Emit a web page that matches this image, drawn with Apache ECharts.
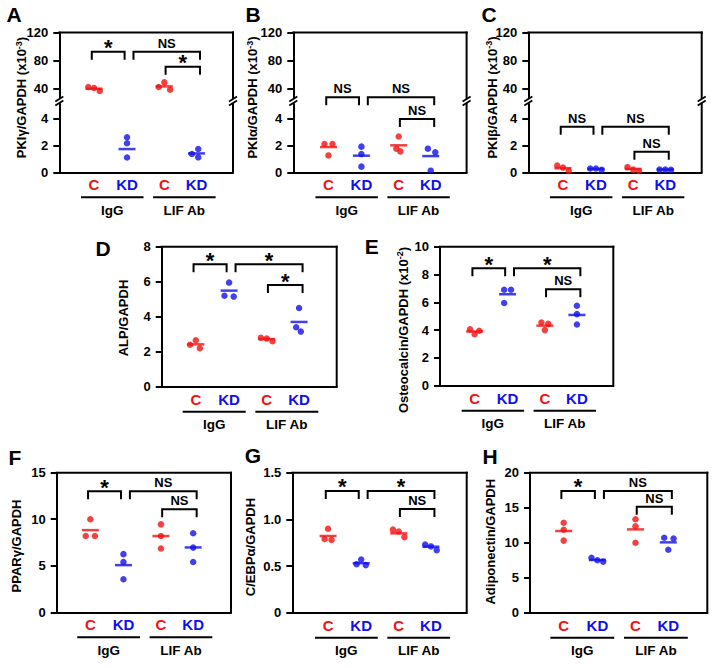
<!DOCTYPE html>
<html><head><meta charset="utf-8">
<script src="https://cdn.jsdelivr.net/npm/echarts@6/dist/echarts.min.js"></script>
<style>html,body{margin:0;padding:0;background:#fff}#c{width:714px;height:668px}</style>
</head><body><div id="c"></div><script>
// ================= DATA =================
const categories = ['C', 'KD', 'C', 'KD'];
const groupNames = ['IgG', 'LIF Ab'];
// dots per group: [IgG C, IgG KD, LIF Ab C, LIF Ab KD]
const pkiGammaDots  = [[42.5, 41, 36.7], [2.6, 2.15, 1.1], [49, 42.4, 38.6], [1.73, 1.36, 1.11]];
const pkiGammaMeans = [40, 1.72, 43.3, 1.4];
const pkiGammaSig   = ['*', 'NS', '*'];
const pkiGammaSigY  = [92.7, 92.7, 71.3];
const pkiAlphaDots  = [[2.1, 2.1, 1.25], [1.9, 1.35, 0.42], [2.65, 1.75, 1.55], [1.75, 1.48, 0.12]];
const pkiAlphaMeans = [1.87, 1.23, 2.0, 1.2];
const pkiAlphaSig   = ['NS', 'NS', 'NS'];
const pkiAlphaSigY  = [27.8, 27.8, 3.95];
const pkiBetaDots   = [[0.5, 0.35, 0.1], [0.28, 0.28, 0.18], [0.38, 0.2, 0.1], [0.2, 0.2, 0.18]];
const pkiBetaMeans  = [0.3, 0.25, 0.25, 0.2];
const pkiBetaSig    = ['NS', 'NS', 'NS'];
const pkiBetaSigY   = [3.38, 3.38, 1.53];
const alpDots  = [[2.65, 2.4, 2.2], [5.95, 5.2, 5.15], [2.8, 2.75, 2.6], [4.5, 3.4, 3.15]];
const alpMeans = [2.42, 5.49, 2.72, 3.7];
const alpSig   = ['*', '*', '*'];
const alpSigY  = [7.0, 7.0, 5.81];
const ocnDots  = [[4.05, 3.95, 3.7], [6.9, 6.9, 5.95], [4.55, 4.45, 4.0], [5.75, 5.15, 4.4]];
const ocnMeans = [3.9, 6.58, 4.32, 5.09];
const ocnSig   = ['*', '*', 'NS'];
const ocnSigY  = [8.45, 8.45, 6.93];
const pparDots  = [[10.0, 8.2, 8.2], [6.25, 5.4, 3.55], [9.45, 8.2, 6.85], [8.5, 6.95, 5.4]];
const pparMeans = [8.83, 5.07, 8.19, 6.97];
const pparSig   = ['*', 'NS', 'NS'];
const pparSigY  = [13.0, 13.0, 11.08];
const cebpDots  = [[0.9, 0.79, 0.78], [0.57, 0.52, 0.51], [0.89, 0.87, 0.81], [0.73, 0.71, 0.67]];
const cebpMeans = [0.822, 0.53, 0.85, 0.707];
const cebpSig   = ['*', '*', 'NS'];
const cebpSigY  = [1.304, 1.304, 1.111];
const adipoDots  = [[12.85, 11.85, 10.3], [7.85, 7.5, 7.3], [13.35, 12.35, 10.0], [10.7, 10.6, 9.0]];
const adipoMeans = [11.67, 7.53, 11.9, 10.05];
const adipoSig   = ['*', 'NS', 'NS'];
const adipoSigY  = [17.4, 17.4, 15.14];
const ticksPkiUpper = [40, 80, 120];
const ticksPkiLower = [0, 2, 4];
const ticksAlp   = [0, 2, 4, 6, 8];
const ticksOcn   = [0, 2, 4, 6, 8, 10];
const ticksPpar  = [0, 5, 10, 15];
const ticksCebp  = [0, 0.5, 1.0, 1.5];
const ticksAdipo = [0, 5, 10, 15, 20];

// ================= LAYOUT / STYLE =================
const RED = '#f21010', BLUE = '#1010e8';
const FONT = '"Liberation Sans", Arial, sans-serif';
const catX = [2.0, 3.9, 6.05, 7.9];
const bracketX = [[1.87, 3.76], [4.27, 8.1], [6.12, 8.1]];
const groupX = [[1.25, 4.85], [5.4, 9.0]];
const groupLabelX = [3.05, 7.2];
const X_MIN = 0, X_MAX = 10;
const JU = 0.33;
const cebpFmt = v => v === 0 ? '0' : v.toFixed(1);

const panels = [
  {letter: 'A', letterXY: [14, 14.5], dots: pkiGammaDots, means: pkiGammaMeans, sig: pkiGammaSig, sigY: pkiGammaSigY,
   left: 59.3, width: 173.7, top: 32.5, bottom: 172.3, dx: 0,
   broken: {split: 98, gap: 6, upper: [26.8, 120], lower: [0, 5.06], upperTicks: ticksPkiUpper, lowerTicks: ticksPkiLower},
   title: '{a|PKIγ/GAPDH (x10}{s|-3}{a|)}', titleXY: [21.7, 97.5],
   jit: [[-1, 0, 1], [0, 0, 0], [0, -1, 1], [0.3, -0.8, 0.3]]},
  {letter: 'B', letterXY: [253, 14.5], dots: pkiAlphaDots, means: pkiAlphaMeans, sig: pkiAlphaSig, sigY: pkiAlphaSigY,
   left: 293.3, width: 173.3, top: 32.5, bottom: 172.3, dx: 0.03,
   broken: {split: 98, gap: 6, upper: [26.8, 120], lower: [0, 5.06], upperTicks: ticksPkiUpper, lowerTicks: ticksPkiLower},
   title: '{a|PKIα/GAPDH (x10}{s|-3}{a|)}', titleXY: [252.5, 97.5],
   jit: [[-0.7, 0.7, 0], [0, 0, 0], [0, -0.4, 0.3], [-0.5, 0.8, 0]]},
  {letter: 'C', letterXY: [489, 14.5], dots: pkiBetaDots, means: pkiBetaMeans, sig: pkiBetaSig, sigY: pkiBetaSigY,
   left: 528.3, width: 173.4, top: 32.5, bottom: 172.3, dx: 0,
   broken: {split: 98, gap: 6, upper: [26.8, 120], lower: [0, 5.06], upperTicks: ticksPkiUpper, lowerTicks: ticksPkiLower},
   title: '{a|PKIβ/GAPDH (x10}{s|-3}{a|)}', titleXY: [492, 97.5],
   jit: [[-1, 0, 1], [-1, 0, 1], [-1, 0, 1], [-1, 0, 1]]},
  {letter: 'D', letterXY: [103, 248], dots: alpDots, means: alpMeans, sig: alpSig, sigY: alpSigY,
   left: 161.7, width: 175, top: 246.7, bottom: 386.7, dx: -0.05,
   y: [0, 8], ticks: ticksAlp,
   title: '{a|ALP/GAPDH}', titleXY: [123.3, 318],
   jit: [[0, -1, 0.7], [0, -0.8, 0.8], [-1, 0, 1], [0, -0.5, 0.3]]},
  {letter: 'E', letterXY: [371.7, 246.7], dots: ocnDots, means: ocnMeans, sig: ocnSig, sigY: ocnSigY,
   left: 440, width: 173.3, top: 246.7, bottom: 385.7, dx: 0,
   y: [0, 10], ticks: ticksOcn,
   title: '{a|Osteocalcin/GAPDH (x10}{s|-2}{a|)}', titleXY: [403.3, 330],
   jit: [[-0.8, 0.8, 0], [-0.6, 0.6, -0.6], [-0.6, 0.6, 0], [0, 0, 0]]},
  {letter: 'F', letterXY: [15, 457.5], dots: pparDots, means: pparMeans, sig: pparSig, sigY: pparSigY,
   left: 56.7, width: 174.3, top: 472.7, bottom: 612.3, dx: -0.07,
   y: [0, 15], ticks: ticksPpar,
   title: '{a|PPARγ/GAPDH}', titleXY: [16.7, 546],
   jit: [[0, -0.8, 0.8], [0, 0, 0], [0, 0, 0], [0, 0, 0]]},
  {letter: 'G', letterXY: [253, 455.7], dots: cebpDots, means: cebpMeans, sig: cebpSig, sigY: cebpSigY,
   left: 292.3, width: 174.4, top: 472.7, bottom: 612.7, dx: 0.05,
   y: [0, 1.5], ticks: ticksCebp, fmt: cebpFmt,
   title: '{a|C/EBPα/GAPDH}', titleXY: [250.7, 547],
   jit: [[0, -0.6, 0.6], [0, -0.8, 0.8], [-1, 0, 1], [-1, 0, 1]]},
  {letter: 'H', letterXY: [490, 456], dots: adipoDots, means: adipoMeans, sig: adipoSig, sigY: adipoSigY,
   left: 530, width: 177.3, top: 472.7, bottom: 612.7, dx: -0.1,
   y: [0, 20], ticks: ticksAdipo,
   title: '{a|Adiponectin/GAPDH}', titleXY: [490, 541.7],
   jit: [[0, 0, 0], [-1, 0, 1], [0, 0, 0], [-0.7, 0.9, 0]]}
];

// ================= BUILD =================
const option = {animation: false, grid: [], xAxis: [], yAxis: [], series: [], graphic: []};
const AXLINE = {color: '#000', width: 2};

function addGrid(left, top, width, height) {
  option.grid.push({left, top, width, height, show: false});
  return option.grid.length - 1;
}
function addAxes(gi, ymin, ymax, ticks, fmt, o) {
  const xi = option.xAxis.length;
  option.xAxis.push({
    type: 'value', gridIndex: gi, min: X_MIN, max: X_MAX, position: 'bottom',
    axisLine: {show: o.bottomLine, onZero: false, lineStyle: AXLINE},
    axisTick: {show: false}, splitLine: {show: false},
    axisLabel: {
      show: o.xLabels, customValues: catX.map(c => c + o.dx), margin: 5,
      formatter: v => {
        let i = 0, best = 1e9;
        catX.forEach((c, k) => { const d = Math.abs(c + o.dx - v); if (d < best) { best = d; i = k; } });
        return (i % 2 === 0 ? '{r|' : '{b|') + categories[i] + '}';
      },
      rich: {
        r: {color: RED, fontSize: 15, fontWeight: 'bold', fontFamily: FONT},
        b: {color: BLUE, fontSize: 15, fontWeight: 'bold', fontFamily: FONT}
      }
    }
  });
  const yi = option.yAxis.length;
  option.yAxis.push({
    type: 'value', gridIndex: gi, min: ymin, max: ymax, position: 'left',
    axisLine: {show: true, onZero: false, lineStyle: AXLINE},
    axisTick: {show: true, length: 6, customValues: ticks, lineStyle: {color: '#000', width: 2}},
    axisLabel: {customValues: ticks, margin: 11, fontSize: 13, fontWeight: 'bold', color: '#000', fontFamily: FONT,
      formatter: fmt || (v => String(v))},
    splitLine: {show: false}
  });
  return {xi, yi};
}
// Box sides drawn by a custom series through the grid's own scales.
// sides: which of 'top','right','bottom' to draw (left side is the y axis line).
function frameSeries(ax, ymin, ymax, sides) {
  option.series.push({
    type: 'custom', xAxisIndex: ax.xi, yAxisIndex: ax.yi, clip: false, z: 8,
    data: [[X_MIN, X_MAX, ymax]],
    renderItem: (params, api) => {
      const tl = api.coord([api.value(0), api.value(2)]);
      const tr = api.coord([api.value(1), api.value(2)]);
      const br = api.coord([api.value(1), ymin]);
      const bl = api.coord([api.value(0), ymin]);
      const kids = [];
      const seg = (a, b) => kids.push({type: 'line', shape: {x1: a[0], y1: a[1], x2: b[0], y2: b[1]},
        style: {stroke: '#000', lineWidth: 2, lineCap: 'square'}});
      if (sides.includes('top')) seg(tl, tr);
      if (sides.includes('right')) seg(tr, br);
      if (sides.includes('bottom')) seg(bl, br);
      return {type: 'group', children: kids};
    }
  });
}
function dotSeries(ax, items) {
  option.series.push({
    type: 'scatter', xAxisIndex: ax.xi, yAxisIndex: ax.yi, symbol: 'circle', symbolSize: 6.5, clip: false, z: 3,
    data: items.map(d => ({value: [d.x, d.y], itemStyle: {color: d.c}}))
  });
}
function meanSeries(ax, items) {
  option.series.push({
    type: 'scatter', xAxisIndex: ax.xi, yAxisIndex: ax.yi, symbol: 'rect', symbolSize: [17, 2.5], clip: false, z: 4,
    data: items.map(d => ({value: [d.x, d.y], itemStyle: {color: d.c}}))
  });
}
function bracketSeries(ax, items) {
  option.series.push({
    type: 'custom', xAxisIndex: ax.xi, yAxisIndex: ax.yi, clip: false, z: 5,
    data: items.map(d => [d.x1, d.x2, d.y]),
    renderItem: (params, api) => {
      const d = items[params.dataIndex];
      const p1 = api.coord([api.value(0), api.value(2)]);
      const p2 = api.coord([api.value(1), api.value(2)]);
      const star = d.t === '*';
      return {type: 'group', children: [
        {type: 'polyline', shape: {points: [[p1[0], p1[1] + 8], [p1[0], p1[1]], [p2[0], p2[1]], [p2[0], p2[1] + 8]]},
         style: {stroke: '#000', lineWidth: 2, fill: null}},
        {type: 'text', x: (p1[0] + p2[0]) / 2, y: star ? p1[1] - 4 : p1[1] - 8.5,
         style: {text: d.t, fill: '#000', fontSize: star ? 22 : 13, fontWeight: 'bold', fontFamily: FONT,
                 align: 'center', verticalAlign: 'middle'}}
      ]};
    }
  });
}
function groupSeries(ax, ymin, dx) {
  option.series.push({
    type: 'custom', xAxisIndex: ax.xi, yAxisIndex: ax.yi, clip: false, z: 5,
    data: groupX.map(g => [g[0] + dx, g[1] + dx, ymin]),
    renderItem: (params, api) => {
      const i = params.dataIndex;
      const p1 = api.coord([api.value(0), api.value(2)]);
      const p2 = api.coord([api.value(1), api.value(2)]);
      const cx = api.coord([groupLabelX[i] + dx, api.value(2)])[0];
      return {type: 'group', children: [
        {type: 'line', shape: {x1: p1[0], y1: p1[1] + 25, x2: p2[0], y2: p2[1] + 25},
         style: {stroke: '#000', lineWidth: 2}},
        {type: 'text', x: cx, y: p1[1] + 38,
         style: {text: groupNames[i], fill: '#000', fontSize: 13.5, fontWeight: 'bold', fontFamily: FONT,
                 align: 'center', verticalAlign: 'middle'}}
      ]};
    }
  });
}
function breakSeries(ax, ymax, gap) {
  option.series.push({
    type: 'custom', xAxisIndex: ax.xi, yAxisIndex: ax.yi, clip: false, z: 9,
    data: [[X_MIN, ymax], [X_MAX, ymax]],
    renderItem: (params, api) => {
      const p = api.coord([api.value(0), api.value(1)]);
      const mk = yy => ({type: 'line', shape: {x1: p[0] - 4, y1: yy + 2.5, x2: p[0] + 4, y2: yy - 2.5},
                         style: {stroke: '#000', lineWidth: 1.8}});
      return {type: 'group', children: [mk(p[1] - 1), mk(p[1] - gap + 1)]};
    }
  });
}

panels.forEach(P => {
  const items = [], means = [], brackets = [];
  P.dots.forEach((grp, g) => grp.forEach((v, k) =>
    items.push({x: catX[g] + P.dx + P.jit[g][k] * JU, y: v, c: g % 2 === 0 ? RED : BLUE})));
  P.means.forEach((v, g) => means.push({x: catX[g] + P.dx, y: v, c: g % 2 === 0 ? RED : BLUE}));
  P.sig.forEach((t, i) => brackets.push({x1: bracketX[i][0] + P.dx, x2: bracketX[i][1] + P.dx, y: P.sigY[i], t}));
  const L = P.left, T = P.top, Bo = P.bottom;

  if (P.broken) {
    const B = P.broken;
    const gu = addGrid(L, T, P.width, B.split - T);
    const gl = addGrid(L, B.split + B.gap, P.width, Bo - B.split - B.gap);
    const au = addAxes(gu, B.upper[0], B.upper[1], B.upperTicks, null, {bottomLine: false, xLabels: false, dx: P.dx});
    const al = addAxes(gl, B.lower[0], B.lower[1], B.lowerTicks, null, {bottomLine: true, xLabels: true, dx: P.dx});
    frameSeries(au, B.upper[0], B.upper[1], ['top', 'right']);
    frameSeries(al, B.lower[0], B.lower[1], ['right']);
    const isUp = v => v > B.lower[1];
    const iu = items.filter(d => isUp(d.y)), il = items.filter(d => !isUp(d.y));
    const mu = means.filter(d => isUp(d.y)), ml = means.filter(d => !isUp(d.y));
    const bu = brackets.filter(d => isUp(d.y)), bl = brackets.filter(d => !isUp(d.y));
    if (iu.length) dotSeries(au, iu);
    if (il.length) dotSeries(al, il);
    if (mu.length) meanSeries(au, mu);
    if (ml.length) meanSeries(al, ml);
    if (bu.length) bracketSeries(au, bu);
    if (bl.length) bracketSeries(al, bl);
    groupSeries(al, B.lower[0], P.dx);
    breakSeries(al, B.lower[1], B.gap);
  } else {
    const gi = addGrid(L, T, P.width, Bo - T);
    const a = addAxes(gi, P.y[0], P.y[1], P.ticks, P.fmt, {bottomLine: true, xLabels: true, dx: P.dx});
    frameSeries(a, P.y[0], P.y[1], ['top', 'right']);
    dotSeries(a, items);
    meanSeries(a, means);
    bracketSeries(a, brackets);
    groupSeries(a, P.y[0], P.dx);
  }

  option.graphic.push({
    type: 'text', x: P.titleXY[0], y: P.titleXY[1], rotation: Math.PI / 2,
    style: {text: P.title, align: 'center', verticalAlign: 'middle',
      rich: {
        a: {fontSize: 13, fontWeight: 'bold', fontFamily: FONT, fill: '#000'},
        s: {fontSize: 9, fontWeight: 'bold', fontFamily: FONT, fill: '#000', verticalAlign: 'top', padding: [0, 0, 6, 0]}
      }}
  });
  option.graphic.push({
    type: 'text', x: P.letterXY[0], y: P.letterXY[1],
    style: {text: P.letter, align: 'center', verticalAlign: 'middle', fontSize: 21, fontWeight: 'bold', fontFamily: FONT, fill: '#000'}
  });
});

const chart = echarts.init(document.getElementById('c'), null, {renderer: 'svg', width: 714, height: 668});
chart.setOption(option);
</script></body></html>
